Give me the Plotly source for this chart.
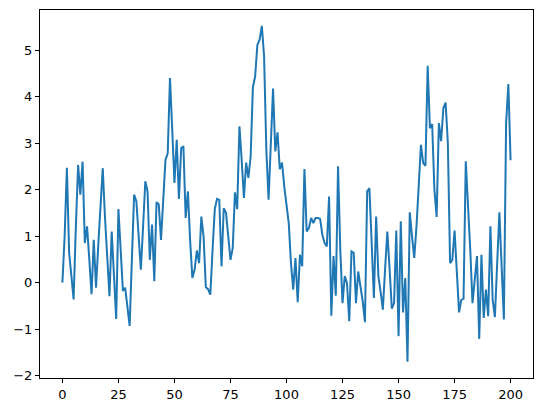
import plotly.graph_objects as go

# series values, index 0..200
values = [
    0.0, 1.0, 2.47, 0.64, 0.15, -0.36, 1.2, 2.53, 1.89, 2.6,
    0.85, 1.21, 0.5, -0.25, 0.92, -0.11, 0.8, 1.7, 2.46, 1.4,
    0.5, -0.29, 1.1, 0.2, -0.78, 1.58, 0.8, -0.18, -0.11, -0.5,
    -0.93, 0.5, 1.89, 1.75, 1.0, 0.28, 1.2, 2.18, 1.96, 0.49,
    1.25, 0.03, 1.73, 1.68, 0.92, 1.8, 2.64, 2.78, 4.4, 3.3,
    2.14, 3.07, 1.80, 2.89, 2.93, 1.39, 1.96, 0.9, 0.10, 0.28,
    0.69, 0.42, 1.42, 0.99, -0.10, -0.14, -0.26, 0.7, 1.58, 1.80,
    1.78, 0.35, 1.60, 1.50, 1.0, 0.49, 0.74, 1.94, 1.58, 3.36,
    2.64, 1.82, 2.58, 2.25, 2.71, 4.2, 4.43, 5.11, 5.22, 5.52,
    4.86, 2.86, 1.78, 3.0, 4.17, 2.82, 3.23, 2.44, 2.58, 2.07,
    1.71, 1.28, 0.42, -0.15, 0.53, -0.42, 0.60, 0.35, 2.44, 1.10,
    1.17, 1.39, 1.28, 1.39, 1.39, 1.37, 1.03, 0.85, 0.78, 1.85,
    -0.71, 0.57, -0.28, 2.5, 0.71, -0.44, 0.14, -0.01, -0.83, 0.67,
    0.64, -0.44, 0.24, -0.08, -0.4, -0.85, 1.96, 2.03, 0.8, -0.33,
    1.42, 0.14, -0.2, -0.58, 0.3, 1.10, 0.3, -0.56, -0.44, 1.12,
    -1.15, 1.32, -0.64, 0.10, -1.70, 1.51, 1.0, 0.53, 1.2, 2.1,
    2.96, 2.57, 2.51, 4.66, 3.32, 3.41, 2.0, 1.41, 3.43, 3.04,
    3.75, 3.87, 3.0, 0.42, 0.49, 1.12, 0.28, -0.64, -0.37, -0.35,
    2.61, 1.71, 0.71, -0.44, 0.05, 0.57, -1.21, 0.60, -0.76, -0.15,
    -0.72, 1.21, -0.37, -0.74, 0.4, 1.51, 0.35, -0.79, 3.43, 4.27,
    2.63,
]
x_values = list(range(len(values)))

fig = go.Figure(go.Scatter(
    x=x_values, y=values, mode='lines',
    line=dict(color='#1f77b4', width=2),
))

axis_style = dict(
    showline=True, linecolor='black', linewidth=1, mirror=True,
    ticks='outside', ticklen=4, tickcolor='black', showgrid=False,
    zeroline=False, tickfont=dict(family='DejaVu Sans', size=13, color='black'),
)

# the page body adds an 8px offset, so margins are trimmed to match
fig.update_layout(
    width=546, height=413,
    margin=dict(l=32, r=21, t=2, b=43),
    plot_bgcolor='white', paper_bgcolor='white',
    showlegend=False,
    xaxis=dict(range=[-10, 210], dtick=25, tick0=0, **axis_style),
    yaxis=dict(range=[-2.05, 5.86], dtick=1, tick0=0, **axis_style),
)

fig.write_html("out.html")
